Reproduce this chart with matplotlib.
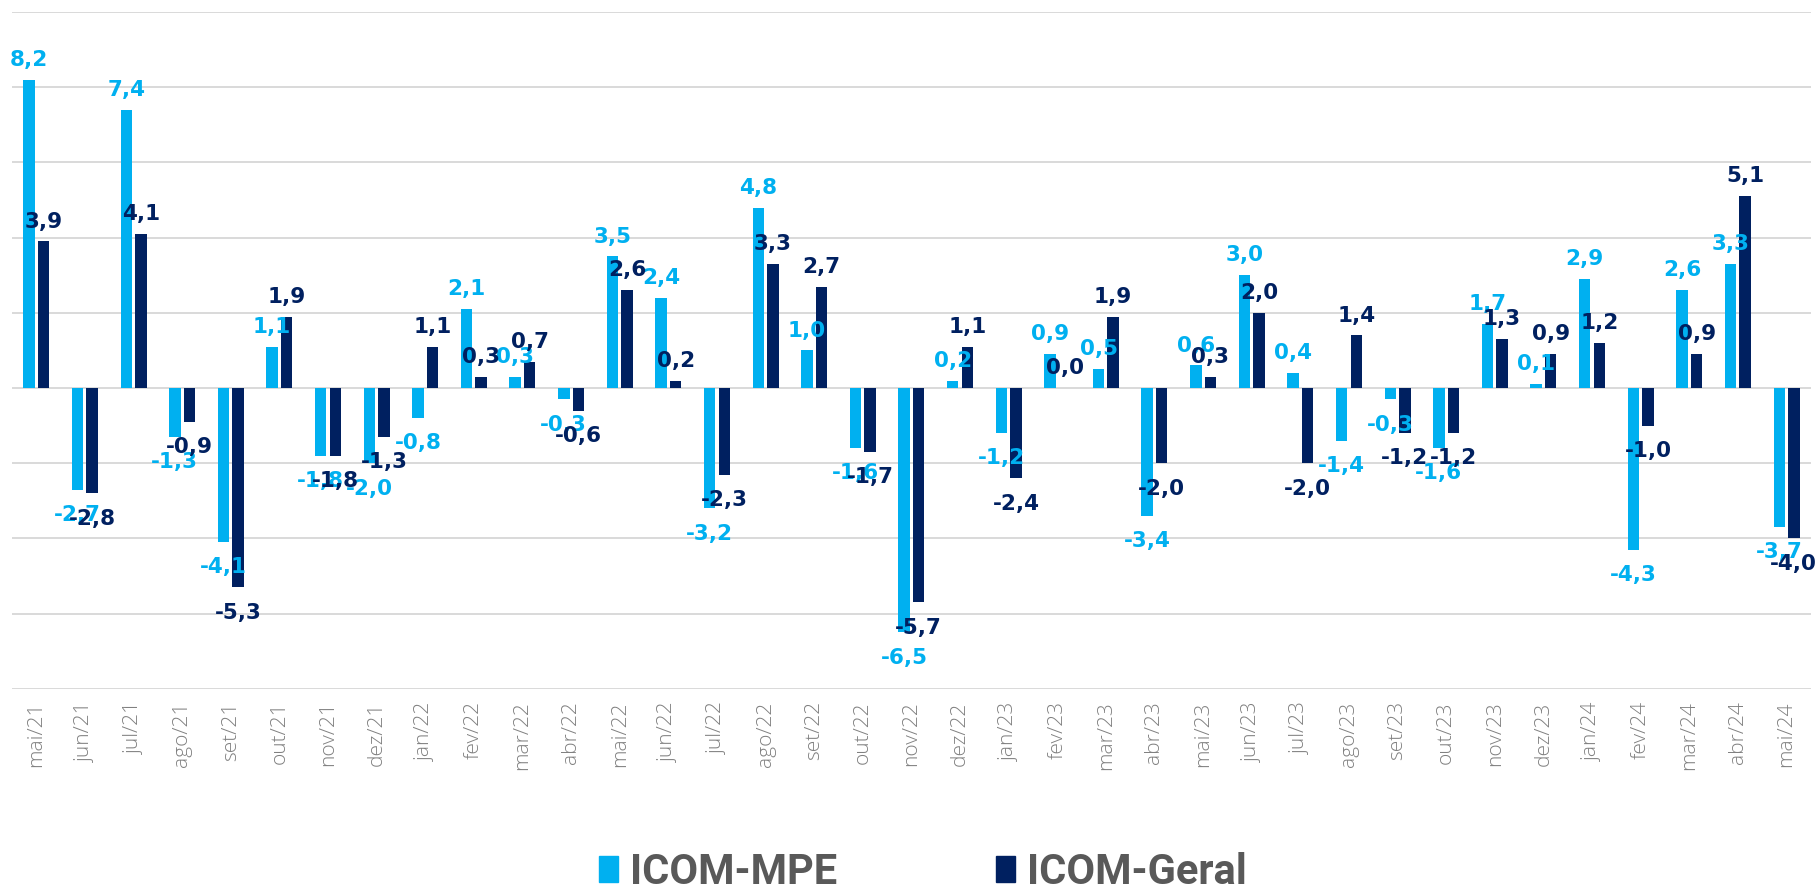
import numpy as np
import matplotlib
matplotlib.use("Agg")
import matplotlib.pyplot as plt
from matplotlib.patches import Patch

months = ["mai/21", "jun/21", "jul/21", "ago/21", "set/21", "out/21", "nov/21", "dez/21",
          "jan/22", "fev/22", "mar/22", "abr/22", "mai/22", "jun/22", "jul/22", "ago/22",
          "set/22", "out/22", "nov/22", "dez/22", "jan/23", "fev/23", "mar/23", "abr/23",
          "mai/23", "jun/23", "jul/23", "ago/23", "set/23", "out/23", "nov/23", "dez/23",
          "jan/24", "fev/24", "mar/24", "abr/24", "mai/24"]
icom_mpe = [8.2, -2.7, 7.4, -1.3, -4.1, 1.1, -1.8, -2.0,
            -0.8, 2.1, 0.3, -0.3, 3.5, 2.4, -3.2, 4.8,
            1.0, -1.6, -6.5, 0.2, -1.2, 0.9, 0.5, -3.4,
            0.6, 3.0, 0.4, -1.4, -0.3, -1.6, 1.7, 0.1,
            2.9, -4.3, 2.6, 3.3, -3.7]
icom_geral = [3.9, -2.8, 4.1, -0.9, -5.3, 1.9, -1.8, -1.3,
              1.1, 0.3, 0.7, -0.6, 2.6, 0.2, -2.3, 3.3,
              2.7, -1.7, -5.7, 1.1, -2.4, 0.0, 1.9, -2.0,
              0.3, 2.0, -2.0, 1.4, -1.2, -1.2, 1.3, 0.9,
              1.2, -1.0, 0.9, 5.1, -4.0]
series = [("ICOM-MPE", icom_mpe, "#00B0F0"), ("ICOM-Geral", icom_geral, "#002060")]

fig = plt.figure(figsize=(18.17, 8.9), dpi=100)
ax = fig.add_axes([0.0066, 0.226, 0.99, 0.7605])

x = np.arange(len(months))
w = 0.235
offsets = [-0.15, 0.15]
for (name, vals, col), off in zip(series, offsets):
    ax.bar(x + off, vals, width=w, color=col, zorder=2)
    for xi, v in zip(x, vals):
        txt = f"{v:.1f}".replace(".", ",")
        if v >= 0:
            ax.annotate(txt, (xi + off, v), xytext=(0, 10), textcoords="offset points",
                        ha="center", va="baseline", color=col, fontsize=15.5,
                        fontweight="bold", family="DejaVu Sans", zorder=3)
        else:
            ax.annotate(txt, (xi + off, v), xytext=(0, -11), textcoords="offset points",
                        ha="center", va="top", color=col, fontsize=15.5,
                        fontweight="bold", family="DejaVu Sans", zorder=3)

ax.set_xlim(-0.5, len(months) - 0.5)
ax.set_ylim(-8, 10)
ax.set_yticks(np.arange(-8, 11, 2))
ax.yaxis.grid(True, color="#d9d9d9", lw=1.4, zorder=0)
ax.set_axisbelow(True)
ax.tick_params(axis="y", left=False, labelleft=False)
ax.set_xticks(x)
ax.set_xticklabels(months, rotation=90, fontsize=15, color="#808080",
                   family="Open Sans", fontweight="light")
ax.tick_params(axis="x", length=0, pad=9)
for s in ax.spines.values():
    s.set_visible(False)

handles = [Patch(color=c, label=n) for n, _, c in series]
fig.legend(handles=handles, loc="center", bbox_to_anchor=(0.508, 0.02), ncol=2,
           frameon=False, handlelength=0.45, handleheight=0.55, handletextpad=0.3,
           columnspacing=3.8, prop={"family": "Roboto", "weight": "bold", "size": 30},
           labelcolor="#595959")

fig.savefig("out.png", dpi=100)
